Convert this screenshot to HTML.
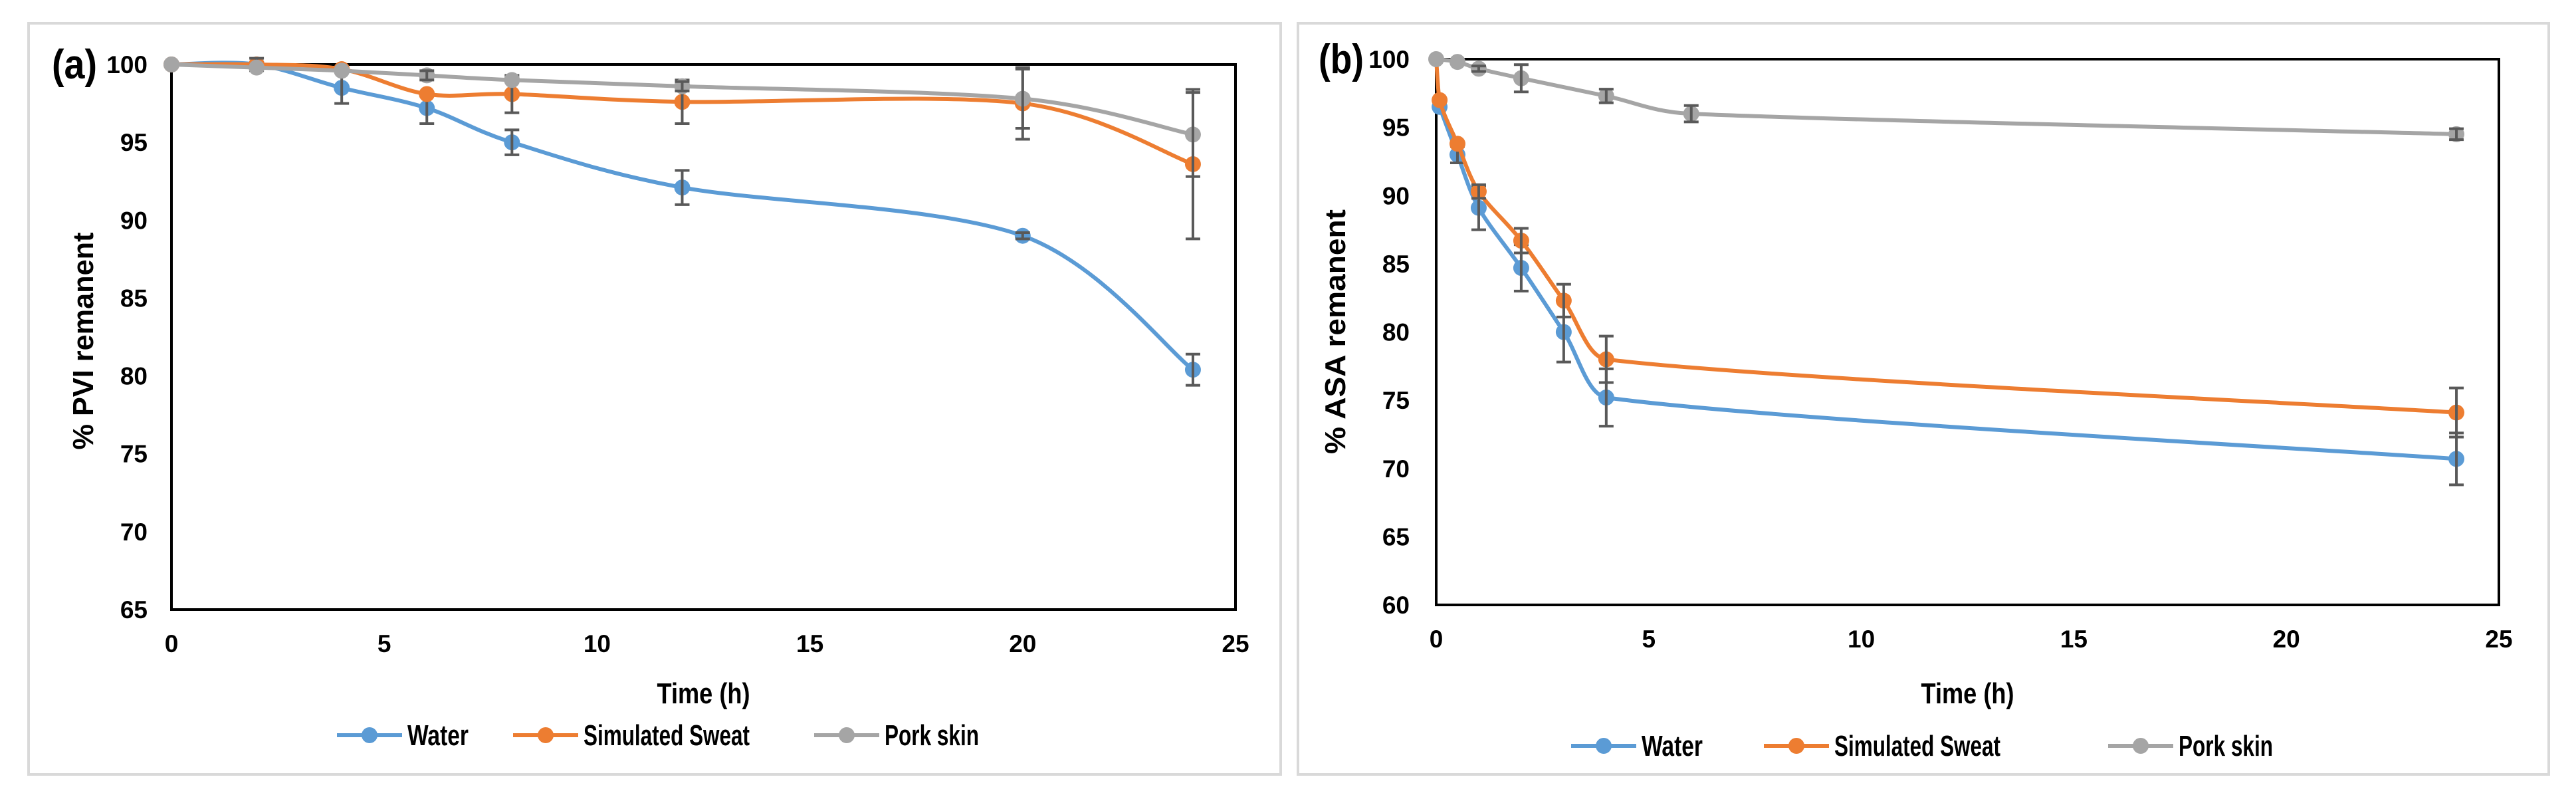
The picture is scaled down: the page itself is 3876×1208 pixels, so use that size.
<!DOCTYPE html>
<html><head><meta charset="utf-8"><style>
html,body{margin:0;padding:0;background:#fff;}
svg{display:block;}
text{font-family:"Liberation Sans",sans-serif;fill:#000;}
</style></head><body>
<svg id="chart" width="3876" height="1208" viewBox="0 0 3876 1208" xmlns="http://www.w3.org/2000/svg">
<rect x="43" y="35" width="1884" height="1130" fill="#fff" stroke="#d9d9d9" stroke-width="4"/>
<rect x="1953" y="35" width="1882" height="1130" fill="#fff" stroke="#d9d9d9" stroke-width="4"/>
<g id="pa"></g>
<g id="pb"></g>
</svg>
<script>
// ---- Panel (a) data ----
const aTimes = [0, 2, 4, 6, 8, 12, 20, 24];
const aWater = [100, 100, 98.5, 97.2, 95.0, 92.1, 89.0, 80.4];
const aWaterErr = [0, 0, 1.0, 1.0, 0.8, 1.1, 0.2, 1.0];
const aSweat = [100, 100, 99.7, 98.1, 98.1, 97.6, 97.5, 93.6];
const aSweatErr = [0, 0.4, 0, 0, 1.2, 1.4, 2.3, 4.8];
const aPork = [100, 99.8, 99.6, 99.3, 99.0, 98.6, 97.8, 95.5];
const aPorkErr = [0, 0, 0, 0.3, 0, 0.3, 1.9, 2.7];
const aYTicks = [65, 70, 75, 80, 85, 90, 95, 100];
const xTicks = [0, 5, 10, 15, 20, 25];

// ---- Panel (b) data ----
const bWaterTimes = [0.08, 0.5, 1, 2, 3, 4, 24];
const bWater = [96.5, 93.0, 89.1, 84.7, 80.0, 75.2, 70.7];
const bWaterErr = [0, 0.6, 1.6, 1.7, 2.2, 2.1, 1.9];
const bSweatTimes = [0, 0.08, 0.5, 1, 2, 3, 4, 24];
const bSweat = [100, 97.0, 93.8, 90.3, 86.7, 82.3, 78.0, 74.1];
const bSweatErr = [0, 0, 0, 0.5, 0.9, 1.2, 1.7, 1.8];
const bPorkTimes = [0, 0.5, 1, 2, 4, 6, 24];
const bPork = [100, 99.8, 99.3, 98.6, 97.3, 96.0, 94.5];
const bPorkErr = [0, 0, 0.2, 1.0, 0.5, 0.6, 0.4];
const bYTicks = [60, 65, 70, 75, 80, 85, 90, 95, 100];

const NS = "http://www.w3.org/2000/svg";
const COL = {water:"#5B9BD5", sweat:"#ED7D31", pork:"#A5A5A5"};
function el(tag, attrs, parent){
  const e = document.createElementNS(NS, tag);
  for (const k in attrs) e.setAttribute(k, attrs[k]);
  parent.appendChild(e); return e;
}
function smoothPath(pts){
  if (pts.length < 2) return "";
  const n = pts.length;
  // tangent at each point (catmull-rom style)
  const tan = pts.map((p, i) => {
    const a = pts[i-1] || p, b = pts[i+1] || p;
    return [(b[0]-a[0])/6, (b[1]-a[1])/6];
  });
  let d = "M" + pts[0][0] + "," + pts[0][1];
  for (let i = 0; i < n - 1; i++){
    const p1 = pts[i], p2 = pts[i+1];
    const dx = p2[0] - p1[0];
    let t1 = tan[i].slice(), t2 = tan[i+1].slice();
    // limit control-point x reach to keep curve from looping
    const lim = dx * 0.45;
    if (t1[0] > lim && t1[0] > 0){ const k = lim / t1[0]; t1 = [t1[0]*k, t1[1]*k]; }
    if (t2[0] > lim && t2[0] > 0){ const k = lim / t2[0]; t2 = [t2[0]*k, t2[1]*k]; }
    const c1 = [p1[0] + t1[0], p1[1] + t1[1]];
    const c2 = [p2[0] - t2[0], p2[1] - t2[1]];
    d += " C" + c1[0] + "," + c1[1] + " " + c2[0] + "," + c2[1] + " " + p2[0] + "," + p2[1];
  }
  return d;
}
function panel(g, cfg){
  const sx = v => cfg.L + (v - 0) / 25 * (cfg.R - cfg.L);
  const sy = v => cfg.B - (v - cfg.ymin) / (cfg.ymax - cfg.ymin) * (cfg.B - cfg.T);
  cfg.yTicks.forEach(v => {
    const t = el("text", {x: cfg.yLabX, y: sy(v) + 13, "text-anchor": "end", "font-size": 37, "font-weight": "bold"}, g);
    
    
    t.textContent = v;
  });
  xTicks.forEach(v => {
    const t = el("text", {x: sx(v), y: cfg.B + 64, "text-anchor": "middle", "font-size": 37, "font-weight": "bold"}, g);
    
    
    t.textContent = v;
  });
  const box = el("rect", {x: cfg.L, y: cfg.T, width: cfg.R - cfg.L, height: cfg.B - cfg.T, fill: "none", stroke: "#000", "stroke-width": 4}, g);
  
  
  const xt = el("text", {x: (cfg.L + cfg.R) / 2, y: 1058, "text-anchor": "middle", "font-size": 44, "font-weight": "bold", textLength: 140, lengthAdjust: "spacingAndGlyphs"}, g);
  
  
  xt.textContent = "Time (h)";
  const yt = el("text", {x: 0, y: 0, "text-anchor": "middle", "font-size": 44, "font-weight": "bold", transform: "translate(" + cfg.yTitleX + "," + cfg.yTitleY + ") rotate(-90)", textLength: cfg.yTitleLen, lengthAdjust: "spacingAndGlyphs"}, g);
  
  
  yt.textContent = cfg.yTitle;
  const lb = el("text", {x: cfg.labX, y: cfg.labY, "font-size": 62, "font-weight": "bold", textLength: cfg.labLen, lengthAdjust: "spacingAndGlyphs"}, g);
  
  
  lb.textContent = cfg.label;
  cfg.series.forEach(s => {
    const sg = el("g", {}, g);
    
    
    const pts = s.x.map((xv, i) => [sx(xv), sy(s.y[i])]);
    const path = el("path", {d: smoothPath(pts), fill: "none", stroke: COL[s.key], "stroke-width": 6, "stroke-linejoin": "round"}, sg);
    
    
    s.x.forEach((xv, i) => {
      if (s.skip && s.skip.includes(i)) return;
      const cx = sx(xv), cy = sy(s.y[i]);
      const m = el("circle", {cx: cx, cy: cy, r: 12, fill: COL[s.key]}, sg);
      
      
      const e = s.err[i];
      if (e > 0){
        const y1 = sy(s.y[i] + e), y2 = sy(s.y[i] - e);
        const eb = el("path", {d: "M" + cx + "," + y1 + "V" + y2 + "M" + (cx - 11) + "," + y1 + "H" + (cx + 11) + "M" + (cx - 11) + "," + y2 + "H" + (cx + 11), stroke: "#595959", "stroke-width": 4, fill: "none"}, sg);
        
        
      }
    });
  });
  const names = {water: "Water", sweat: "Simulated Sweat", pork: "Pork skin"};
  const lens = {water: 92, sweat: 250, pork: 142};
  cfg.legend.forEach(l => {
    const lg = el("g", {}, g);
    
    
    el("line", {x1: l.x, x2: l.x + 98, y1: cfg.legY, y2: cfg.legY, stroke: COL[l.key], "stroke-width": 6}, lg);
    el("circle", {cx: l.x + 49, cy: cfg.legY, r: 12, fill: COL[l.key]}, lg);
    const t = el("text", {x: l.x + 106, y: cfg.legY + 15, "font-size": 44, "font-weight": "bold", textLength: lens[l.key], lengthAdjust: "spacingAndGlyphs"}, lg);
    t.textContent = names[l.key];
  });
}
panel(document.getElementById("pa"), {
  L: 258, R: 1859, T: 97, B: 917, ymin: 65, ymax: 100, yTicks: aYTicks, yLabX: 222,
  yTitle: "% PVI remanent", yTitleX: 140, yTitleY: 513, yTitleLen: 327,
  label: "(a)", labX: 78, labY: 118, labLen: 68,
  series: [
    {key: "water", x: aTimes, y: aWater, err: aWaterErr},
    {key: "sweat", x: aTimes, y: aSweat, err: aSweatErr},
    {key: "pork", x: aTimes, y: aPork, err: aPorkErr}
  ],
  legY: 1106, legend: [{key: "water", x: 507}, {key: "sweat", x: 772}, {key: "pork", x: 1225}]
});
panel(document.getElementById("pb"), {
  L: 2161, R: 3760, T: 89, B: 910, ymin: 60, ymax: 100, yTicks: bYTicks, yLabX: 2121,
  yTitle: "% ASA remanent", yTitleX: 2024, yTitleY: 499, yTitleLen: 368,
  label: "(b)", labX: 1984, labY: 110, labLen: 68,
  series: [
    {key: "water", x: bWaterTimes, y: bWater, err: bWaterErr},
    {key: "sweat", x: bSweatTimes, y: bSweat, err: bSweatErr, skip: [0]},
    {key: "pork", x: bPorkTimes, y: bPork, err: bPorkErr}
  ],
  legY: 1122, legend: [{key: "water", x: 2364}, {key: "sweat", x: 2654}, {key: "pork", x: 3172}]
});
</script>
</body></html>
